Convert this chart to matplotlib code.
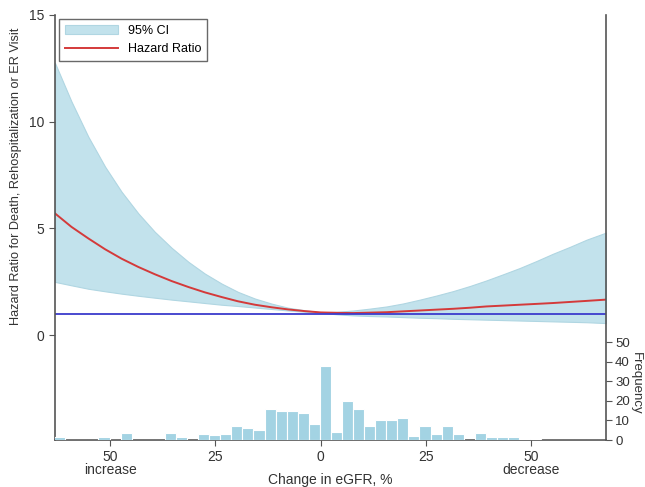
# Hazard ratio vs change in eGFR, with frequency histogram underneath
import numpy as np
import matplotlib.pyplot as plt

plt.rcParams['font.family'] = ['Liberation Sans', 'DejaVu Sans']

# change in eGFR (% decrease; negative = increase)
pct = [-63.1, -59.2, -55.2, -51.2, -47.3, -43.3, -39.4, -35.4, -31.4,
       -27.5, -23.5, -19.6, -15.6, -11.6, -7.7, -3.7, 0.0,
       3.9, 7.8, 11.8, 15.7, 19.6, 23.6, 27.5, 31.5, 35.5, 39.4,
       43.4, 47.3, 51.3, 55.2, 59.2, 63.2, 67.8]
hr = [5.70, 5.07, 4.53, 4.02, 3.58, 3.19, 2.85, 2.53, 2.25,
      2.00, 1.78, 1.58, 1.42, 1.30, 1.20, 1.12, 1.06,
      1.04, 1.03, 1.05, 1.07, 1.11, 1.15, 1.19, 1.23, 1.28, 1.34,
      1.38, 1.42, 1.46, 1.50, 1.55, 1.60, 1.66]
ci_upper = [12.75, 10.95, 9.30, 7.89, 6.72, 5.70, 4.84, 4.09, 3.43,
            2.88, 2.41, 2.02, 1.71, 1.47, 1.28, 1.16, 1.07,
            1.09, 1.15, 1.24, 1.34, 1.48, 1.66, 1.85, 2.06, 2.30, 2.56,
            2.85, 3.14, 3.47, 3.81, 4.13, 4.47, 4.80]
ci_lower = [2.49, 2.33, 2.17, 2.05, 1.94, 1.84, 1.75, 1.66, 1.58,
            1.50, 1.42, 1.36, 1.29, 1.22, 1.15, 1.09, 1.05,
            0.97, 0.92, 0.89, 0.87, 0.84, 0.81, 0.79, 0.76, 0.74, 0.72,
            0.70, 0.68, 0.66, 0.64, 0.62, 0.60, 0.56]

# histogram of patients
bin_start = -63.3
bin_width = 2.63
freq = [1.5, 0, 0, 0, 1.5, 0, 3.5, 0, 0, 0, 3.5, 1.5, 0, 3.2, 2.4, 3.2,
        7, 6, 5, 16, 15, 15, 14, 8,
        38, 4, 20, 16, 7, 10, 10, 11.4, 2.2, 7, 3.3, 7, 3.3, 0, 3.4,
        1.5, 1.5, 1.5, 0.5, 0.5, 0, 0, 0, 0, 0, 0]

xticks = [-50, -25, 0, 25, 50]
xticklabels = ['50\nincrease', '25', '0', '25', '50\ndecrease']

fig = plt.figure(figsize=(6.45, 4.87), dpi=100)
ax = fig.add_axes([0.0853, 0.0965, 0.8542, 0.8727])

ax.fill_between(pct, ci_lower, ci_upper, color='#c2e2ec', lw=0.8,
                edgecolor='#b0d6e2', label='95% CI')
ax.plot(pct, hr, color='#d43a3a', lw=1.4, label='Hazard Ratio')
ax.axhline(1, color='#3b3bcc', lw=1.3)

ax.set_xlim(-63.1, 67.8)
ax.set_ylim(-4.92, 15)
ax.set_yticks([0, 5, 10, 15])
ax.set_xticks(xticks)
ax.set_xticklabels(xticklabels, linespacing=0.85)
ax.spines['top'].set_visible(False)
ax.spines['right'].set_visible(False)
for s in ['left', 'bottom']:
    ax.spines[s].set_color('#555555')
    ax.spines[s].set_linewidth(1.2)
ax.tick_params(colors='#333333', labelsize=10, length=4, color='#555555')
ax.set_xlabel('Change in eGFR, %', fontsize=10, color='#333333')
ax.xaxis.set_label_coords(0.5, -0.078)
ax.set_ylabel('Hazard Ratio for Death, Rehospitalization or ER Visit',
              fontsize=9.2, color='#333333')
ax.yaxis.set_label_coords(-0.06, 0.62)

leg = ax.legend(loc='upper left', fontsize=9, frameon=True, fancybox=False,
                borderaxespad=0.3, handlelength=4.2, borderpad=0.5)
leg.get_frame().set_edgecolor('#444444')
leg.get_frame().set_linewidth(1.0)

ax2 = ax.twinx()
edges = bin_start + bin_width * np.arange(len(freq))
ax2.bar(edges, freq, width=bin_width, align='edge', color='#a3d3e3',
        edgecolor='white', linewidth=0.8)
ax2.set_ylim(0, 217)
ax2.set_yticks([0, 10, 20, 30, 40, 50])
ax2.spines['top'].set_visible(False)
ax2.spines['left'].set_visible(False)
ax2.spines['bottom'].set_visible(False)
ax2.spines['right'].set_color('#555555')
ax2.spines['right'].set_linewidth(1.2)
ax2.tick_params(colors='#333333', labelsize=9.5, length=4, pad=2.5,
                color='#555555')
ax2.set_ylabel('Frequency', fontsize=9.5, color='#333333', rotation=-90,
               va='center', ha='center')
ax2.yaxis.set_label_coords(1.054, 0.134)

fig.savefig('out.png', dpi=100)
